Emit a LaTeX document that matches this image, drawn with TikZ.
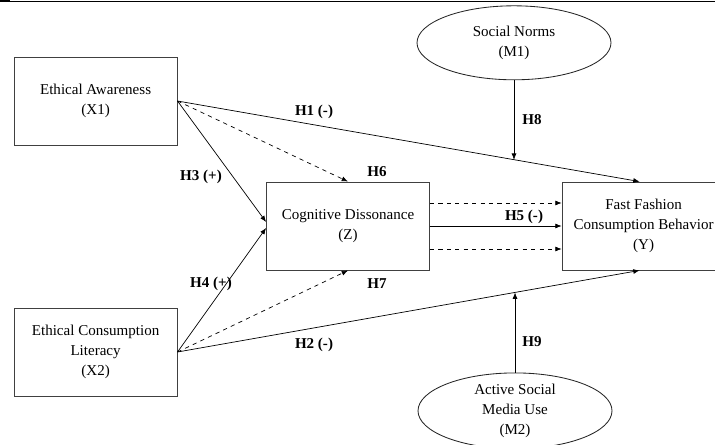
\documentclass[tikz,border=0pt]{standalone}
\usepackage{fontspec}
\setmainfont{Liberation Serif}
\usetikzlibrary{arrows.meta,shapes.geometric}

\begin{document}
\begin{tikzpicture}[>={Latex[length=4.5pt,width=3.5pt]}, line width=0.5pt]
\tikzstyle{var}=[rectangle,draw=black!75,line width=0.6pt,minimum width=4.075cm,minimum height=2.2cm,inner sep=0pt,align=center,font=\fontsize{10.7}{14.2}\selectfont]
\tikzstyle{mod}=[ellipse,draw=black!85,line width=0.6pt,minimum width=4.85cm,minimum height=1.85cm,inner sep=0pt,align=center,font=\fontsize{10.7}{14.2}\selectfont]
\tikzstyle{hyp}=[inner sep=0pt,font=\fontsize{10.7}{13}\selectfont\bfseries]

\useasboundingbox (0,0) rectangle (17.875,11.1);
\draw[line width=0.5pt] (0,11.075) -- (17.875,11.075);
\draw[line width=1.2pt] (0,11.08) -- (0.25,11.08);

%get variables.
\node[var] (ea)  at (2.39,8.575) {Ethical Awareness\\(X1)};
\node[var] (ecl) at (2.39,2.3)   {Ethical Consumption\\Literacy\\(X2)};
\node[var] (cd)  at (8.7,5.45)   {Cognitive Dissonance\\(Z)};
\node[var] (ff)  at (16.09,5.45) {Fast Fashion\\Consumption Behavior\\(Y)};
\node[mod] (sn)  at (12.85,10.03) {Social Norms\\(M1)};
\node[mod] (asm) at (12.875,0.83) {Active Social\\Media Use\\(M2)};

%get labels.
\node[hyp] (hOne)   at (7.85,8.3)    {H1 (-)};
\node[hyp] (hTwo)   at (7.85,2.475)  {H2 (-)};
\node[hyp] (hThree) at (5.025,6.675) {H3 (+)};
\node[hyp] (hFour)  at (5.275,4.0)   {H4 (+)};
\node[hyp] (hFive)  at (13.1,5.675)  {H5 (-)};
\node[hyp] (hSix)   at (9.425,6.8)   {H6};
\node[hyp] (hSeven) at (9.425,4.0)   {H7};
\node[hyp] (hEight) at (13.3,8.1)    {H8};
\node[hyp] (hNine)  at (13.3,2.55)   {H9};

%direct paths
\draw[->] (ea.east) -- coordinate[pos=0.73] (onOne) ([xshift=-1mm]ff.north);
\draw[->] (ecl.east) -- coordinate[pos=0.73] (onTwo) ([xshift=-1mm]ff.south);
\draw[->] (ea.east) -- ([yshift=1mm]cd.west);
\draw[->] (ecl.east) -- ([yshift=-0.5mm]cd.west);
\draw[->] (cd.east) -- (ff.west);

%mediation
\draw[->,dashed] (ea.east) -- (cd.north);
\draw[->,dashed] (ecl.east) -- (cd.south);
\draw[->,dashed] ([yshift=5.75mm]cd.east) -- ([yshift=5.75mm]ff.west);
\draw[->,dashed] ([yshift=-5.75mm]cd.east) -- ([yshift=-5.75mm]ff.west);

%moderation
\draw[->] (sn.south) -- (sn.south |- onOne);
\draw[->] (asm.north) -- (asm.north |- onTwo);

\end{tikzpicture}
\end{document}
